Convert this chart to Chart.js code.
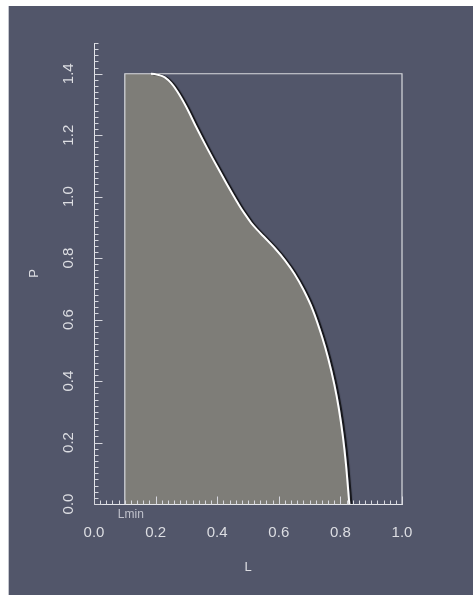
<!DOCTYPE html>
<html><head><meta charset="utf-8">
<script src="https://cdn.jsdelivr.net/npm/chart.js@4/dist/chart.umd.min.js"></script>
<style>html,body{margin:0;padding:0;background:#fff;overflow:hidden;} canvas{display:block;}</style>
</head><body>
<canvas id="c" width="473" height="595"></canvas>
<script>
// ---- data ----
const curveL = [0.10, 0.185, 0.21, 0.23, 0.25, 0.27, 0.30, 0.33, 0.365, 0.40, 0.43, 0.45, 0.47, 0.49, 0.51, 0.53, 0.55, 0.59, 0.62, 0.65, 0.68, 0.71, 0.74, 0.76, 0.78, 0.795, 0.808, 0.818, 0.829];
const curveP = [1.40, 1.40, 1.396, 1.388, 1.37, 1.343, 1.291, 1.23, 1.162, 1.097, 1.043, 1.008, 0.974, 0.943, 0.915, 0.892, 0.871, 0.829, 0.793, 0.750, 0.697, 0.632, 0.545, 0.475, 0.39, 0.31, 0.22, 0.13, 0.0];
const boxL = [0.1, 0.1, 1.0, 1.0];
const boxP = [0.0, 1.4, 1.4, 0.0];
const xTickValues = [0.0, 0.2, 0.4, 0.6, 0.8, 1.0];
const xTickLabels = ['0.0', '0.2', '0.4', '0.6', '0.8', '1.0'];
const yTickValues = [0.0, 0.2, 0.4, 0.6, 0.8, 1.0, 1.2, 1.4];
const yTickLabels = ['0.0', '0.2', '0.4', '0.6', '0.8', '1.0', '1.2', '1.4'];
const xTitle = 'L';
const yTitle = 'P';
const markerLabel = 'Lmin';
const markerL = 0.1;

const toPts = (xs, ys) => xs.map((x, i) => ({x: x, y: ys[i]}));

const PANEL = '#52566a';
const TEXT = '#dcdde2';

const panelPlugin = {
  id: 'panel',
  beforeDraw(chart) {
    const ctx = chart.ctx;
    ctx.save();
    ctx.fillStyle = '#ffffff';
    ctx.fillRect(0, 0, chart.width, chart.height);
    ctx.fillStyle = PANEL;
    ctx.fillRect(9, 6, chart.width - 9, chart.height - 6);
    ctx.fillStyle = '#c4c6ce';
    ctx.fillRect(8, 6, 1, chart.height - 6);
    ctx.restore();
  }
};

const shadowPlugin = {
  id: 'shadowLine',
  beforeDatasetDraw(chart, args) {
    const ds = chart.data.datasets[args.index];
    if (ds.shadow) {
      const ctx = chart.ctx;
      ctx.save();
      ctx.shadowColor = 'rgba(10,10,12,0.9)';
      ctx.shadowOffsetX = 2.2;
      ctx.shadowOffsetY = 0.5;
      ctx.shadowBlur = 1;
    }
  },
  afterDatasetDraw(chart, args) {
    const ds = chart.data.datasets[args.index];
    if (ds.shadow) chart.ctx.restore();
  }
};

const axesPlugin = {
  id: 'axesDeco',
  afterDatasetsDraw(chart) {
    const ctx = chart.ctx;
    const xs = chart.scales.x, ys = chart.scales.y;
    const x0 = Math.round(xs.getPixelForValue(0)) + 0.5;
    const y0 = Math.round(ys.getPixelForValue(0)) + 0.5;
    const xEnd = xs.getPixelForValue(xs.max);
    const yTop = ys.getPixelForValue(ys.max);
    ctx.save();
    ctx.strokeStyle = '#e4e5ea';
    ctx.lineWidth = 1;
    // axis lines
    ctx.beginPath();
    ctx.moveTo(x0, Math.round(yTop));
    ctx.lineTo(x0, y0);
    ctx.lineTo(Math.round(xEnd) + 1, y0);
    ctx.stroke();
    // y ticks (inward, every 0.02)
    ctx.strokeStyle = '#d6d7de';
    ctx.beginPath();
    for (let i = 0; i <= 75; i++) {
      const py = Math.round(ys.getPixelForValue(i * 0.02)) + 0.5;
      const len = (i % 10 === 0) ? 8 : 4;
      ctx.moveTo(x0, py);
      ctx.lineTo(x0 + len, py);
    }
    // x ticks (upward, every 0.02)
    for (let i = 0; i <= 50; i++) {
      const px = Math.round(xs.getPixelForValue(i * 0.02)) + 0.5;
      const len = (i % 10 === 0) ? 8 : 4;
      ctx.moveTo(px, y0);
      ctx.lineTo(px, y0 - len);
    }
    ctx.stroke();

    // x tick labels
    ctx.fillStyle = TEXT;
    ctx.font = '15px "Liberation Sans", Arial, sans-serif';
    ctx.textAlign = 'center';
    ctx.textBaseline = 'middle';
    xTickValues.forEach((v, i) => {
      ctx.fillText(xTickLabels[i], xs.getPixelForValue(v), y0 + 28);
    });
    // y tick labels (rotated)
    yTickValues.forEach((v, i) => {
      ctx.save();
      ctx.translate(x0 - 26, ys.getPixelForValue(v));
      ctx.rotate(-Math.PI / 2);
      ctx.fillText(yTickLabels[i], 0, 0);
      ctx.restore();
    });
    // titles
    ctx.font = '13px "Liberation Sans", Arial, sans-serif';
    ctx.fillText(xTitle, (xs.getPixelForValue(xs.min) + xEnd) / 2, y0 + 63);
    ctx.save();
    ctx.translate(x0 - 60, (ys.getPixelForValue(ys.min) + yTop) / 2);
    ctx.rotate(-Math.PI / 2);
    ctx.fillText(yTitle, 0, 0);
    ctx.restore();
    // Lmin marker label
    ctx.fillStyle = '#bfc1cb';
    ctx.font = '12px "Liberation Sans", Arial, sans-serif';
    ctx.textAlign = 'left';
    ctx.fillText(markerLabel, xs.getPixelForValue(markerL) - 7, y0 + 10);
    ctx.restore();
  }
};

new Chart(document.getElementById('c'), {
  type: 'scatter',
  data: {
    datasets: [
      {
        label: 'region',
        data: toPts(curveL, curveP),
        showLine: true,
        fill: 'origin',
        backgroundColor: '#7e7d78',
        borderWidth: 0,
        borderColor: 'rgba(0,0,0,0)',
        pointRadius: 0,
        cubicInterpolationMode: 'monotone',
        order: 3,
        clip: false
      },
      {
        label: 'box',
        data: toPts(boxL, boxP),
        showLine: true,
        fill: false,
        borderColor: '#d9dade',
        borderWidth: 1.2,
        pointRadius: 0,
        tension: 0,
        order: 2,
        clip: false
      },
      {
        label: 'curve',
        data: toPts(curveL, curveP),
        showLine: true,
        fill: false,
        borderColor: '#ffffff',
        borderWidth: 2,
        pointRadius: 0,
        cubicInterpolationMode: 'monotone',
        segment: {
          borderColor: c => c.p0DataIndex === 0 ? 'rgba(0,0,0,0)' : '#ffffff'
        },
        shadow: true,
        order: 1,
        clip: false
      }
    ]
  },
  options: {
    responsive: false,
    animation: false,
    devicePixelRatio: 1,
    layout: { padding: { left: 94, right: 71, top: 43, bottom: 91 } },
    scales: {
      x: { type: 'linear', min: 0, max: 1, display: false },
      y: { type: 'linear', min: 0, max: 1.5, display: false }
    },
    plugins: { legend: { display: false }, tooltip: { enabled: false } },
    events: []
  },
  plugins: [panelPlugin, shadowPlugin, axesPlugin]
});
</script>
</body></html>
